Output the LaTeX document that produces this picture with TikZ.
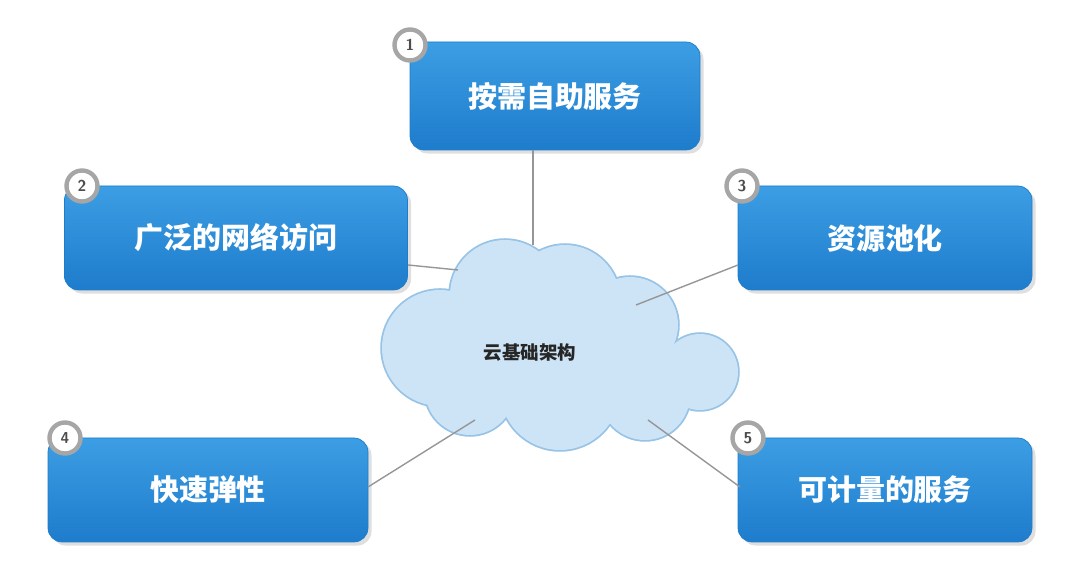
\documentclass[tikz,border=0pt]{standalone}
\usepackage{fontspec}
\newfontfamily\cjk{Noto Sans CJK SC}
\usetikzlibrary{positioning,shadows}
\definecolor{boxtop}{RGB}{60,158,228}
\definecolor{boxbot}{RGB}{30,124,204}
\definecolor{cloudfill}{RGB}{205,228,246}
\definecolor{cloudline}{RGB}{150,195,230}
\definecolor{linkgray}{RGB}{150,150,150}

\begin{document}
\begin{tikzpicture}[
    x=0.02cm, y=-0.02cm,
    feature/.style={rectangle, rounded corners=8pt, top color=boxtop, bottom color=boxbot,
        draw=boxbot, text=white, font=\cjk\bfseries\fontsize{16.5}{20}\selectfont,
        drop shadow={opacity=0.25, shadow xshift=2pt, shadow yshift=-2pt}},
    badge/.style={circle, fill=white, draw=gray!70, line width=2.5pt, minimum size=0.62cm,
        inner sep=0pt, font=\sffamily\bfseries\small, text=gray!60!black},
    link/.style={draw=linkgray, line width=0.8pt}
]
\useasboundingbox (0,0) rectangle (1080,573);

% Cloud
\foreach \cx/\cy/\r in {440/348/58, 505/295/55, 565/300/55, 630/325/48, 700/372/38,
                        560/390/60, 470/390/45, 645/395/45, 560/345/70}
  \draw[cloudline, line width=2pt] (\cx,\cy) circle (\r);
\foreach \cx/\cy/\r in {440/348/58, 505/295/55, 565/300/55, 630/325/48, 700/372/38,
                        560/390/60, 470/390/45, 645/395/45, 560/345/70}
  \fill[cloudfill] (\cx,\cy) circle (\r);
\node[font=\cjk\bfseries\fontsize{10.5}{12}\selectfont, text=black!85] (cloud) at (530,353) {云基础架构};

% Cloud ends of the links
\coordinate (c1) at (533,245);
\coordinate (c2) at (458,270);
\coordinate (c3) at (636,305);
\coordinate (c4) at (475,420);
\coordinate (c5) at (648,420);

% Boxes
\node[feature, minimum width=290*0.02cm, minimum height=108*0.02cm] (b1) at (555,96) {按需自助服务};
\node[feature, minimum width=343*0.02cm, minimum height=104*0.02cm] (b2) at (236,238) {广泛的网络访问};
\node[feature, minimum width=294*0.02cm, minimum height=104*0.02cm] (b3) at (885,238) {资源池化};
\node[feature, minimum width=320*0.02cm, minimum height=104*0.02cm] (b4) at (208,490) {快速弹性};
\node[feature, minimum width=294*0.02cm, minimum height=104*0.02cm] (b5) at (885,490) {可计量的服务};

% Links
\draw[link] (b1.south -| c1) -- (c1);
\draw[link] (408,265) -- (c2);
\draw[link] (c3) -- (738,265);
\draw[link] (c4) -- (368,487);
\draw[link] (c5) -- (740,487);

% Badges
\node[badge] (n1) at (410,45) {1};
\node[badge] (n2) at (82,186) {2};
\node[badge] (n3) at (742,186) {3};
\node[badge] (n4) at (65,438) {4};
\node[badge] (n5) at (748,438) {5};
\end{tikzpicture}
\end{document}
